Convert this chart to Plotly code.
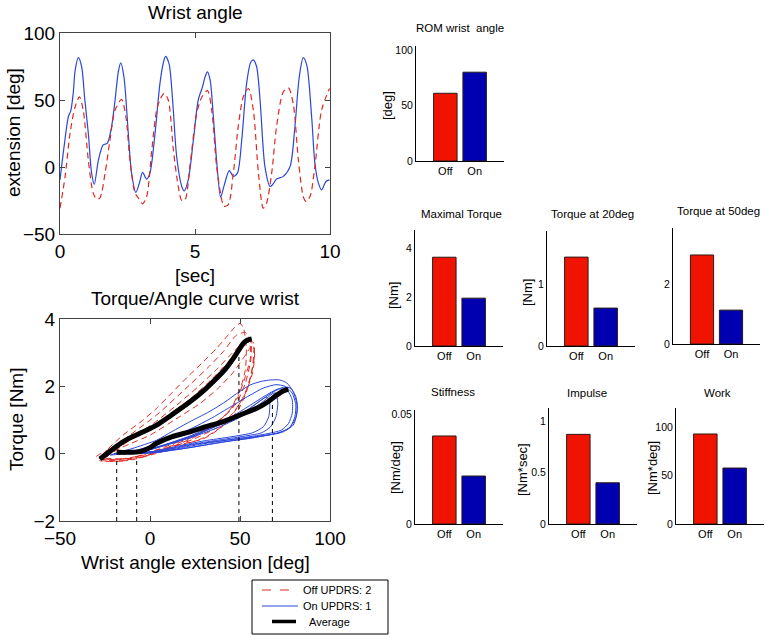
import plotly.graph_objects as go

W, H = 765, 635
FONT = "Liberation Sans, Arial, Helvetica, sans-serif"

# ---------------- data ----------------
time_on = [0, 0.15, 0.31, 0.4, 0.49, 0.56, 0.68, 0.8, 0.92, 1.05, 1.17, 1.27, 1.42, 1.6, 1.75, 1.91, 2.04, 2.16,
           2.25, 2.37, 2.53, 2.65, 2.81, 2.94, 3.06, 3.21, 3.33, 3.52, 3.7, 3.83, 3.91, 4.04, 4.17, 4.32, 4.51,
           4.6, 4.75, 4.94, 5.12, 5.28, 5.37, 5.46, 5.56, 5.68, 5.8, 5.95, 6.07, 6.27, 6.42, 6.57, 6.73, 6.91,
           7.06, 7.16, 7.28, 7.41, 7.59, 7.78, 7.88, 8.02, 8.27, 8.52, 8.7, 8.86, 9.01, 9.14, 9.32, 9.44, 9.57,
           9.69, 9.85, 9.98]
angle_on = [-9.6, 15, 37.5, 42, 55, 72, 81.6, 75, 50, 25, -4.6, -13, 5, 16.5, 17.7, 30, 50, 71, 77.7, 67, 25,
            -4.6, -19, -12, -4, -9, -4.6, 25, 62, 78, 82.6, 77, 50, 8, -14.5, -17.8, -9.6, 20, 50, 60, 67, 71,
            65, 37.5, 5, -22.5, -14.5, -2.7, -7, -4.6, 20, 62, 78, 80, 75, 50, 0.3, -14.5, -13, -9, -7, 0.3, 30,
            67, 81.6, 76, 37.5, 2.8, -12, -17, -10.8, -9.6]

time_off = [0, 0.19, 0.37, 0.56, 0.72, 0.86, 1.05, 1.23, 1.36, 1.48, 1.67, 1.85, 2.04, 2.28, 2.44, 2.59, 2.78,
            2.9, 3.06, 3.21, 3.4, 3.58, 3.72, 3.86, 4.01, 4.2, 4.38, 4.51, 4.63, 4.81, 5.06, 5.25, 5.46, 5.62,
            5.8, 5.99, 6.07, 6.23, 6.42, 6.6, 6.79, 6.98, 7.16, 7.35, 7.53, 7.65, 7.84, 8.02, 8.27, 8.46, 8.64,
            8.83, 9.01, 9.11, 9.26, 9.44, 9.69, 9.98]
angle_off = [-30.7, -7, 25, 45, 52.4, 42.5, 5, -19.5, -24, -23, -4.6, 20, 42.5, 50.4, 37.5, 5, -19.5, -23,
             -27.5, -22, 12.7, 42.5, 51, 55, 50, 12.7, -14.5, -25, -24.5, 0.3, 40, 52, 57, 42.5, 0.3, -24.5,
             -29.4, -28, -4.6, 30, 52.4, 58.6, 42.5, -4.6, -30.7, -27, -4.6, 30, 56, 59, 47, 5, -22, -25.7, -22,
             0.3, 42.5, 58.6]

off_loops_angle = [
    [-28, -15, -5, 3.7, 12, 22, 30, 37, 43, 47, 50, 52, 53.5, 53, 50, 45, 38, 28, 15, 0, -15, -28],
    [-27, -15, 3.7, 22, 33, 40.7, 48, 53, 56, 56, 53, 48, 40, 30, 18, 3, -12, -27],
    [-30, -18, -5, 8, 20, 30, 40, 48, 54, 57.5, 58, 56, 52, 46, 38, 25, 10, -8, -22, -30],
    [-26, -14, 0, 12, 24, 34, 43, 50, 55, 57.5, 57, 54, 49, 41, 31, 18, 3, -12, -26],
    [-25, -12, 2, 15, 27, 37, 45, 51, 55, 56, 53, 49, 44, 36, 25, 12, -5, -25],
    [-28, -15, 0, 15, 28, 38, 46, 52, 56, 58, 57, 53, 47, 40, 30, 15, 0, -15, -28],
]
off_loops_torque = [
    [-0.15, 0.55, 0.95, 1.35, 1.8, 2.34, 2.75, 3.13, 3.5, 3.75, 3.87, 3.72, 3.1, 2.5, 1.9, 1.35, 0.95, 0.6, 0.3, 0.0, -0.15, -0.15],
    [-0.1, 0.4, 1.15, 2.04, 2.6, 3.03, 3.52, 3.6, 3.35, 2.8, 2.1, 1.5, 1.05, 0.7, 0.4, 0.1, -0.15, -0.1],
    [-0.1, 0.25, 0.6, 1.0, 1.5, 1.95, 2.5, 3.0, 3.35, 3.3, 2.9, 2.3, 1.7, 1.2, 0.8, 0.45, 0.15, -0.15, -0.2, -0.1],
    [-0.2, 0.3, 0.75, 1.2, 1.7, 2.2, 2.7, 3.15, 3.35, 3.2, 2.6, 1.9, 1.3, 0.85, 0.5, 0.25, 0.0, -0.2, -0.2],
    [-0.15, 0.4, 0.9, 1.45, 2.0, 2.5, 2.95, 3.25, 3.3, 2.9, 2.3, 1.7, 1.25, 0.9, 0.5, 0.2, -0.1, -0.15],
    [-0.2, 0.2, 0.55, 1.05, 1.5, 1.95, 2.4, 2.85, 3.15, 3.0, 2.4, 1.8, 1.25, 0.8, 0.45, 0.25, 0.05, -0.22, -0.2],
]

on_loops_angle = [
    [-22, -10, 3.7, 12, 22.2, 32, 40.7, 48, 55.6, 62, 67, 72, 76, 79.5, 81.5, 81.5, 79.6, 74, 65, 55, 40.7, 22, 3.7, -14.8, -22],
    [-20, -8, 5, 15, 25, 35, 45, 55, 63, 70, 75, 79, 81, 80.5, 78, 72, 60, 45, 30, 15, 0, -20],
    [-18, -5, 8, 20, 32, 44, 54, 62, 69, 74, 78, 81, 82, 80.5, 77, 70, 58, 42, 25, 10, -5, -18],
    [-15, 0, 12, 25, 38, 50, 58, 64, 68, 70, 71, 70, 67, 62, 50, 35, 20, 5, -15],
    [-12, 2, 15, 28, 40, 50, 57, 62, 65, 66.5, 66, 63, 57, 45, 30, 15, 0, -12],
    [-16, -3, 10, 22, 34, 46, 56, 64, 71, 76, 79, 79, 77, 73, 64, 50, 35, 20, 5, -16],
]
on_loops_torque = [
    [-0.04, 0.15, 0.4, 0.65, 0.95, 1.22, 1.5, 1.78, 2.04, 2.15, 2.19, 2.19, 2.1, 1.85, 1.5, 1.15, 0.85, 0.65, 0.55, 0.45, 0.35, 0.18, 0.05, 0.0, -0.04],
    [0.0, 0.1, 0.3, 0.55, 0.8, 1.08, 1.4, 1.72, 1.95, 2.05, 2.0, 1.8, 1.45, 1.1, 0.8, 0.62, 0.5, 0.38, 0.25, 0.12, 0.02, 0.0],
    [0.02, 0.08, 0.25, 0.45, 0.7, 1.0, 1.3, 1.6, 1.85, 1.97, 1.95, 1.7, 1.35, 1.0, 0.75, 0.6, 0.5, 0.4, 0.28, 0.12, 0.02, 0.02],
    [0.0, 0.12, 0.3, 0.52, 0.78, 1.08, 1.35, 1.6, 1.78, 1.8, 1.5, 1.1, 0.8, 0.62, 0.5, 0.38, 0.25, 0.08, 0.0],
    [0.02, 0.15, 0.38, 0.62, 0.9, 1.15, 1.4, 1.6, 1.68, 1.5, 1.1, 0.8, 0.62, 0.5, 0.38, 0.22, 0.05, 0.02],
    [0.0, 0.1, 0.3, 0.52, 0.8, 1.12, 1.45, 1.72, 1.92, 1.9, 1.6, 1.2, 0.9, 0.7, 0.58, 0.46, 0.34, 0.2, 0.04, 0.0],
]

avg_off_angle = [-27.8, -22, -14.8, -5, 3.7, 12, 22.2, 30, 37, 42, 46.3, 49, 51.9, 54, 56.5]
avg_off_torque = [-0.16, 0.08, 0.36, 0.62, 0.85, 1.15, 1.54, 1.88, 2.24, 2.52, 2.83, 3.05, 3.28, 3.37, 3.41]
avg_on_angle = [-18.5, -12, -5.6, 0, 3.7, 12, 22.2, 31, 40.7, 50, 59.3, 65, 70.4, 74, 76.8]
avg_on_torque = [0.04, 0.04, 0.06, 0.18, 0.31, 0.5, 0.65, 0.8, 0.95, 1.15, 1.35, 1.52, 1.74, 1.86, 1.92]

ref_angles = [-18.5, -7.4, 49.4, 68.0]
ref_tops = [-0.1, -0.1, 3.05, 1.68]

legend_labels = ["Off UPDRS: 2", "On UPDRS: 1", "Average"]

categories = ["Off", "On"]
rom_wrist_angle = [61, 80]
maximal_torque = [3.62, 1.95]
torque_at_20deg = [1.43, 0.61]
torque_at_50deg = [2.97, 1.13]
stiffness = [0.040, 0.0218]
impulse = [0.87, 0.40]
work = [92.8, 57.7]

# ---------------- styling ----------------
RED = "#e0281e"
BLUE = "#2a46dc"
BAR_COLORS = ["#f01400", "#0000b0"]


def fx(p):
    return p / W


def fy(p):
    return 1 - p / H


fig = go.Figure()
layout = dict(
    width=W, height=H, autosize=False,
    margin=dict(l=0, r=0, t=0, b=0, autoexpand=False),
    paper_bgcolor="white", plot_bgcolor="white",
    font=dict(family=FONT, color="black"),
    showlegend=False,
)
annotations = []
shapes = []


def ann(text, x, y, size, angle=0, xanchor="center"):
    annotations.append(dict(text=text, x=fx(x), y=fy(y), xref="paper", yref="paper",
                            xanchor=xanchor, yanchor="middle", showarrow=False,
                            textangle=angle, font=dict(size=size, family=FONT, color="black")))


# ---- top-left: wrist angle time series ----
fig.add_trace(go.Scatter(x=time_on, y=angle_on, mode="lines", line=dict(color=BLUE, width=1.2, shape="spline", smoothing=0.8),
                         xaxis="x", yaxis="y", hoverinfo="skip"))
fig.add_trace(go.Scatter(x=time_off, y=angle_off, mode="lines",
                         line=dict(color=RED, width=1.2, dash="6px,4px", shape="spline", smoothing=0.8),
                         xaxis="x", yaxis="y", hoverinfo="skip"))

box_axis = dict(showline=True, linecolor="#444", linewidth=1, mirror="ticks", ticks="inside", ticklen=5,
                tickcolor="#444", showgrid=False, zeroline=False, tickfont=dict(size=19, family=FONT))
layout["xaxis"] = dict(box_axis, domain=[fx(60), fx(330)], anchor="y", range=[0, 10], tickvals=[0, 5, 10])
layout["yaxis"] = dict(box_axis, domain=[fy(234), fy(33)], anchor="x", range=[-50, 100], tickvals=[-50, 0, 50, 100])

# ---- bottom-left: torque / angle loops ----
for ax, ty in zip(off_loops_angle, off_loops_torque):
    fig.add_trace(go.Scatter(x=ax, y=ty, mode="lines",
                             line=dict(color=RED, width=1, dash="6px,4px", shape="spline", smoothing=0.6),
                             xaxis="x2", yaxis="y2", hoverinfo="skip"))
for ax, ty in zip(on_loops_angle, on_loops_torque):
    fig.add_trace(go.Scatter(x=ax, y=ty, mode="lines",
                             line=dict(color=BLUE, width=1, shape="spline", smoothing=0.6),
                             xaxis="x2", yaxis="y2", hoverinfo="skip"))
for ra, rt in zip(ref_angles, ref_tops):
    fig.add_trace(go.Scatter(x=[ra, ra], y=[-2, rt], mode="lines", line=dict(color="black", width=1, dash="4px,4px"),
                             xaxis="x2", yaxis="y2", hoverinfo="skip"))
for ax, ty in ((avg_off_angle, avg_off_torque), (avg_on_angle, avg_on_torque)):
    fig.add_trace(go.Scatter(x=ax, y=ty, mode="lines", line=dict(color="black", width=5, shape="spline"),
                             xaxis="x2", yaxis="y2", hoverinfo="skip"))

layout["xaxis2"] = dict(box_axis, domain=[fx(60), fx(330)], anchor="y2", range=[-50, 100], tickvals=[-50, 0, 50, 100])
layout["yaxis2"] = dict(box_axis, domain=[fy(521), fy(319)], anchor="x2", range=[-2, 4], tickvals=[-2, 0, 2, 4])

ann("Wrist angle", 195, 12, 19)
ann("extension [deg]", 13, 133, 19, -90)
ann("[sec]", 195, 275, 19)
ann("Torque/Angle curve wrist", 195, 298, 19)
ann("Torque [Nm]", 16, 420, 19, -90)
ann("Wrist angle extension [deg]", 195, 562, 19)

# ---- legend box (drawn as shapes + text) ----
shapes.append(dict(type="rect", xref="paper", yref="paper", x0=fx(252), x1=fx(388), y0=fy(634), y1=fy(580),
                   line=dict(color="black", width=1), fillcolor="white"))
legend_styles = [
    (262, 298, 590, dict(color=RED, width=1, dash="dash"), 301),
    (262, 298, 606, dict(color=BLUE, width=1), 301),
    (272, 296, 621.5, dict(color="black", width=3.5), 307),
]
for label, (lx0, lx1, ly, lstyle, tx) in zip(legend_labels, legend_styles):
    shapes.append(dict(type="line", xref="paper", yref="paper", x0=fx(lx0), x1=fx(lx1), y0=fy(ly), y1=fy(ly),
                       line=lstyle))
    ann(label, tx, ly, 11, xanchor="left")

# ---- bar panels ----
panels = [
    # values, title, ylabel, (x0,x1,y0,y1), ymax, tickvals, ticktext, title pos, ylabel pos
    (rom_wrist_angle, "ROM wrist\u00a0 angle", "[deg]", (416, 504, 46, 161), 103.6, [0, 50, 100], ["0", "50", "100"], (460, 28), (388, 106)),
    (maximal_torque, "Maximal Torque", "[Nm]", (415, 503, 230, 346), 4.73, [0, 2, 4], ["0", "2", "4"], (461, 214), (393, 295)),
    (torque_at_20deg, "Torque at 20deg", "[Nm]", (547, 635, 231, 346), 1.85, [0, 1], ["0", "1"], (592, 214), (527, 293)),
    (torque_at_50deg, "Torque at 50deg", None, (673, 760, 228, 344), 3.87, [0, 2], ["0", "2"], (718, 211), None),
    (stiffness, "Stiffness", "[Nm/deg]", (415, 503, 410, 524), 0.0518, [0, 0.05], ["0", "0.05"], (453, 392), (395, 468)),
    (impulse, "Impulse", "[Nm*sec]", (549, 637, 408, 524), 1.126, [0, 0.5, 1], ["0", "0.5", "1"], (587, 393), (522, 470)),
    (work, "Work", "[Nm*deg]", (676, 764, 408, 524), 119.6, [0, 50, 100], ["0", "50", "100"], (717, 393), (652, 468)),
]

for k, (vals, title, ylab, (x0, x1, y0, y1), ymax, tv, tt, tpos, lpos) in enumerate(panels, start=3):
    fig.add_trace(go.Bar(x=categories, y=vals, width=0.8,
                         marker=dict(color=BAR_COLORS, line=dict(color="#2a1a1a", width=1)),
                         xaxis=f"x{k}", yaxis=f"y{k}", hoverinfo="skip"))
    layout[f"xaxis{k}"] = dict(domain=[fx(x0), fx(x1)], anchor=f"y{k}", type="category", range=[-1, 2],
                               showline=True, linecolor="black", linewidth=1, ticks="", showgrid=False,
                               zeroline=False, tickfont=dict(size=11, family=FONT))
    layout[f"yaxis{k}"] = dict(domain=[fy(y1), fy(y0)], anchor=f"x{k}", range=[0, ymax], tickvals=tv, ticktext=tt,
                               showline=True, linecolor="black", linewidth=1, ticks="", showgrid=False,
                               zeroline=False, tickfont=dict(size=10.5, family=FONT))
    ann(title, tpos[0], tpos[1], 11.5)
    if ylab:
        ann(ylab, lpos[0], lpos[1], 13, -90)

layout["annotations"] = annotations
layout["shapes"] = shapes
fig.update_layout(**layout)
fig.write_html("out.html", config={"displayModeBar": False, "staticPlot": True},
               post_script="document.body.style.margin='0';document.body.style.overflow='hidden';")
